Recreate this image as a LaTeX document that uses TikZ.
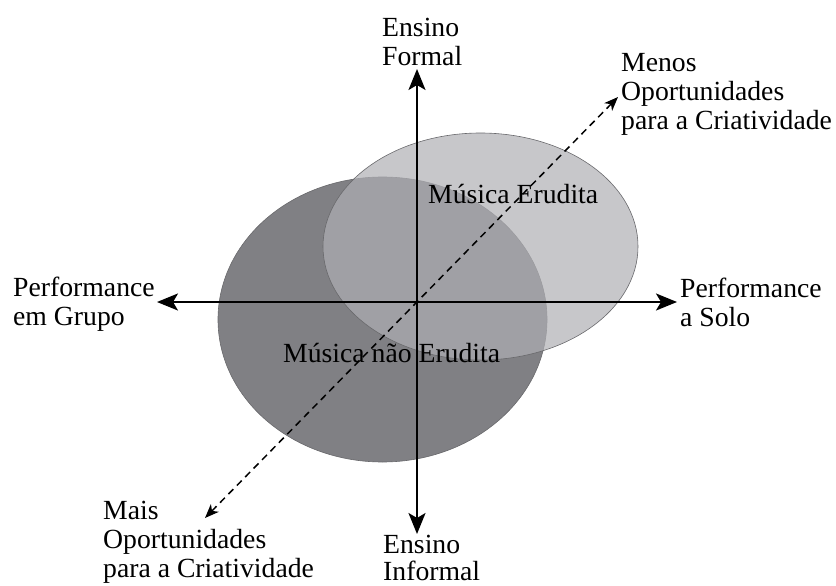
\documentclass[tikz,border=0pt]{standalone}
\usepackage{fontspec}
\setmainfont{Liberation Serif}
\usetikzlibrary{arrows.meta}
\definecolor{elldark}{RGB}{128,128,132}
\definecolor{elllight}{RGB}{175,175,180}
\definecolor{ellline}{RGB}{105,105,108}
\tikzset{
  axis/.style={line width=2.2pt, black, {Stealth[length=21pt,width=17pt,inset=5pt]}-{Stealth[length=21pt,width=17pt,inset=5pt]}},
  diag/.style={line width=1.5pt, black, dash pattern=on 7pt off 5pt, {Stealth[length=14pt,width=11pt,inset=4pt]}-{Stealth[length=14pt,width=11pt,inset=4pt]}},
  lbl/.style={font=\fontsize{27.7}{29}\selectfont, inner sep=0pt, align=left, anchor=north west},
  inlbl/.style={font=\fontsize{27.7}{29}\selectfont, inner sep=0pt, anchor=base west}
}
\begin{document}
\begin{tikzpicture}[x=1pt,y=-1pt]
\useasboundingbox (0,0) rectangle (836,586);
% ellipses
\fill[elldark, draw=ellline, line width=0.6pt] (382.5,319.5) ellipse [x radius=164.5pt, y radius=142.5pt];
\fill[elllight, fill opacity=0.7, draw=ellline, line width=0.6pt] (480.5,246.5) ellipse [x radius=157.5pt, y radius=113.5pt];
% coordinates
\coordinate (O) at (417,302);
\coordinate (top) at (417,69);
\coordinate (bot) at (417,534);
\coordinate (lft) at (157,302);
\coordinate (rgt) at (677,302);
\coordinate (dl) at (205,518);
\coordinate (du) at (618,97);
% axes
\draw[axis] (lft) -- (rgt);
\draw[axis] (bot) -- (top);
\draw[diag] (dl) -- (du);
% labels
\node[lbl] (formal) at (382,18.3) {Ensino\\Formal};
\node[lbl, font=\fontsize{27.7}{27.5}\selectfont] (informal) at (383,534.5) {Ensino\\Informal};
\node[lbl] (menos) at (621,53.3) {Menos\\Oportunidades\\para a Criatividade};
\node[lbl] (mais) at (103,501.3) {Mais\\Oportunidades\\para a Criatividade};
\node[lbl] (grupo) at (13,276.8) {Performance\\em Grupo};
\node[lbl] (solo) at (680,277.3) {Performance\\a Solo};
\node[inlbl] (erudita) at (428,203) {Música Erudita};
\node[inlbl] (naoerudita) at (283,362) {Música não Erudita};
\end{tikzpicture}
\end{document}
